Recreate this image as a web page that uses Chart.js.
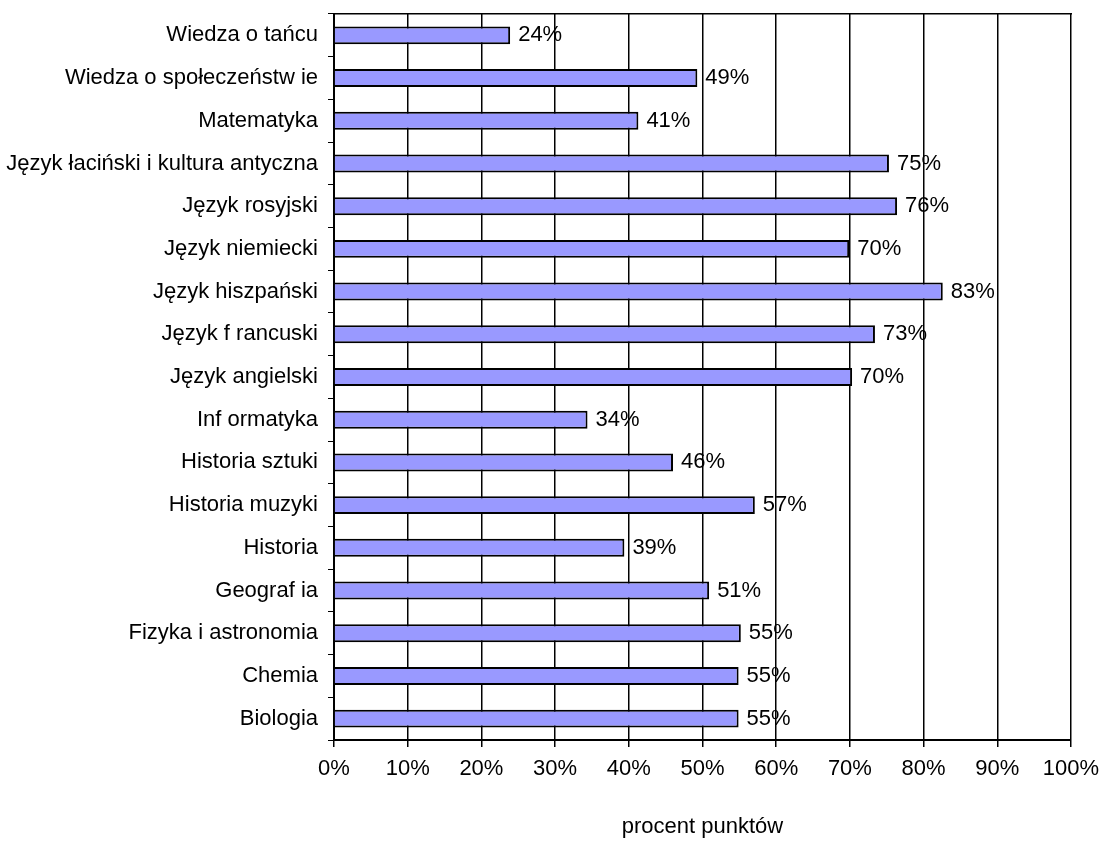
<!DOCTYPE html>
<html lang="pl">
<head>
    <meta charset="UTF-8">
    <title>Procent punktów</title>
    <style>
        body {
            margin: 0;
            background-color: #ffffff;
        }
        #chart {
            display: block;
        }
    </style>
</head>
<body>
    <canvas id="chart" width="1101" height="841"></canvas>
    <script src="https://cdn.jsdelivr.net/npm/chart.js@4/dist/chart.umd.min.js"></script>
    <script>
        // categories, top to bottom
        const subjects = [
            'Wiedza o tańcu',
            'Wiedza o społeczeństw ie',
            'Matematyka',
            'Język łaciński i kultura antyczna',
            'Język rosyjski',
            'Język niemiecki',
            'Język hiszpański',
            'Język f rancuski',
            'Język angielski',
            'Inf ormatyka',
            'Historia sztuki',
            'Historia muzyki',
            'Historia',
            'Geograf ia',
            'Fizyka i astronomia',
            'Chemia',
            'Biologia'
        ];
        const percentPoints = [23.9, 49.3, 41.3, 75.3, 76.4, 69.9, 82.6, 73.4, 70.3, 34.4, 46.0, 57.1, 39.4, 50.9, 55.2, 54.9, 54.9];
        const xTicks = [0, 10, 20, 30, 40, 50, 60, 70, 80, 90, 100];
        const axisTitle = 'procent punktów';

        const FONT = "'Liberation Sans', Arial, sans-serif";
        Chart.defaults.font.family = FONT;
        Chart.defaults.font.size = 22;
        Chart.defaults.color = '#000000';

        // value labels just right of each bar
        const barValues = {
            id: 'barValues',
            afterDatasetsDraw(chart) {
                const ctx = chart.ctx;
                const meta = chart.getDatasetMeta(0);
                ctx.save();
                ctx.font = '22px ' + FONT;
                ctx.fillStyle = '#000';
                ctx.textAlign = 'left';
                ctx.textBaseline = 'middle';
                meta.data.forEach((bar, i) => {
                    ctx.fillText(Math.round(percentPoints[i]) + '%', bar.x + 8, bar.y);
                });
                ctx.restore();
            }
        };

        // no automatic room for overhanging tick labels
        function noOverhang(s) {
            s.paddingLeft = 0;
            s.paddingRight = 0;
            s.paddingTop = 0;
            s.paddingBottom = 0;
        }

        new Chart(document.getElementById('chart'), {
            type: 'bar',
            data: {
                labels: subjects,
                datasets: [{
                    data: percentPoints,
                    backgroundColor: '#9999ff',
                    borderColor: '#000000',
                    borderWidth: 2,
                    categoryPercentage: 1,
                    barPercentage: 0.42
                }]
            },
            options: {
                indexAxis: 'y',
                responsive: false,
                animation: false,
                layout: { padding: { top: 14, right: 30, left: 0, bottom: 0 } },
                plugins: {
                    legend: { display: false },
                    tooltip: { enabled: false }
                },
                scales: {
                    x: {
                        type: 'linear',
                        min: 0,
                        max: 100,
                        afterBuildTicks: s => { s.ticks = xTicks.map(v => ({ value: v })); },
                        ticks: {
                            padding: 9,
                            callback: v => v + '%'
                        },
                        grid: {
                            color: '#000000',
                            lineWidth: 1.5,
                            tickLength: 7
                        },
                        border: { color: '#000000', width: 2 },
                        title: {
                            display: true,
                            text: axisTitle,
                            font: { size: 22 },
                            padding: { top: 0, bottom: 1 }
                        },
                        afterFit: s => { noOverhang(s); s.height = 101; }
                    },
                    top: {
                        type: 'linear',
                        position: 'top',
                        min: 0,
                        max: 100,
                        ticks: { display: false },
                        grid: { display: false },
                        border: { color: '#000000', width: 1.5 },
                        afterFit: s => { noOverhang(s); s.height = 0; }
                    },
                    y: {
                        ticks: { padding: 10 },
                        grid: {
                            offset: true,
                            drawOnChartArea: false,
                            color: '#000000',
                            tickLength: 6
                        },
                        border: { color: '#000000', width: 2 },
                        afterFit: s => { noOverhang(s); s.width = 334; }
                    }
                }
            },
            plugins: [barValues]
        });
    </script>
</body>
</html>
